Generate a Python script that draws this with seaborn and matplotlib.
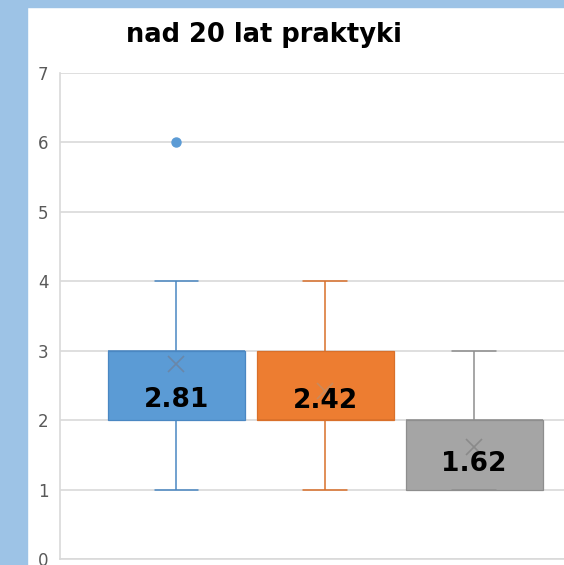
import numpy as np
import pandas as pd
import matplotlib
matplotlib.use("Agg")
import matplotlib.pyplot as plt
from matplotlib.patches import Rectangle
import seaborn as sns

title = "nad 20 lat praktyki"
groups = ["Seria 1", "Seria 2", "Seria 3"]
scores = [1, 2, 3, 4, 6]
# number of answers per score in each series (26 respondents)
counts_1 = [3, 6, 12, 4, 1]
counts_2 = [4, 10, 9, 3, 0]
counts_3 = [12, 12, 2, 0, 0]
y_ticks = [0, 1, 2, 3, 4, 5, 6, 7]

colors = ["#5B9BD5", "#ED7D31", "#A5A5A5"]
edge_colors = ["#4A87C2", "#D9702A", "#8E8E8E"]
mean_colors = ["#6A87A8", "#C98A5C", "#8A8A8A"]
label_pos = [2.29, 2.27, 1.37]

frames = []
for g, c in zip(groups, [counts_1, counts_2, counts_3]):
    frames.append(pd.DataFrame({"seria": g, "ocena": np.repeat(scores, c)}))
df = pd.concat(frames, ignore_index=True)

sns.set_style("white")
plt.rcParams["font.family"] = ["DejaVu Sans"]

fig = plt.figure(figsize=(5.64, 5.65), dpi=100)
# light blue frame strips (left and top)
fig.patches.append(Rectangle((0, 0), 27 / 564, 1, transform=fig.transFigure,
                             color="#9DC3E6", zorder=0))
fig.patches.append(Rectangle((0, 1 - 7.3 / 565), 1, 7.3 / 565, transform=fig.transFigure,
                             color="#9DC3E6", zorder=0))

ax = fig.add_axes([59.5 / 564, 6 / 565, 1 - 59.5 / 564, 486 / 565])
sns.boxplot(data=df, x="seria", y="ocena", hue="seria", palette=colors,
            width=0.92, whis=1.5, linewidth=1.1, legend=False,
            showmeans=True, capwidths=0.29,
            meanprops=dict(marker="x", markersize=11, markeredgewidth=1.2),
            flierprops=dict(marker="o", markersize=6.5), ax=ax)

for cont, fc, ec, mc in zip(ax.containers, colors, edge_colors, mean_colors):
    for b in cont.boxes:
        b.set_facecolor(fc)
        b.set_edgecolor(ec)
        b.set_linewidth(0.9)
    for ln in list(cont.whiskers) + list(cont.caps) + list(cont.medians):
        ln.set_color(ec)
    for ln in cont.fliers:
        ln.set_markerfacecolor(fc)
        ln.set_markeredgecolor(fc)
    for ln in cont.means:
        ln.set_markeredgecolor(mc)
        ln.set_markerfacecolor(mc)

for i, g in enumerate(groups):
    m = df.loc[df["seria"] == g, "ocena"].mean()
    ax.text(i, label_pos[i], f"{m:.2f}", ha="center", va="center",
            fontsize=19, fontweight="bold", color="black", zorder=10)

ax.set_ylim(0, 7)
ax.set_xlim(-0.783, 2.604)
ax.set_yticks(y_ticks)
ax.set_xticks([])
ax.set_xlabel("")
ax.set_ylabel("")
ax.tick_params(axis="y", length=0, pad=8, labelsize=12, labelcolor="#595959")
ax.yaxis.grid(True, color="#D9D9D9", linewidth=1.2)
ax.set_axisbelow(True)
for s in ["top", "right"]:
    ax.spines[s].set_visible(False)
for s in ["left", "bottom"]:
    ax.spines[s].set_color("#D9D9D9")
    ax.spines[s].set_linewidth(1.2)

fig.text(263.5 / 564, 1 - 35 / 565, title, ha="center", va="center",
         fontsize=18.5, fontweight="bold", color="black")

fig.savefig("out.png", dpi=100)
